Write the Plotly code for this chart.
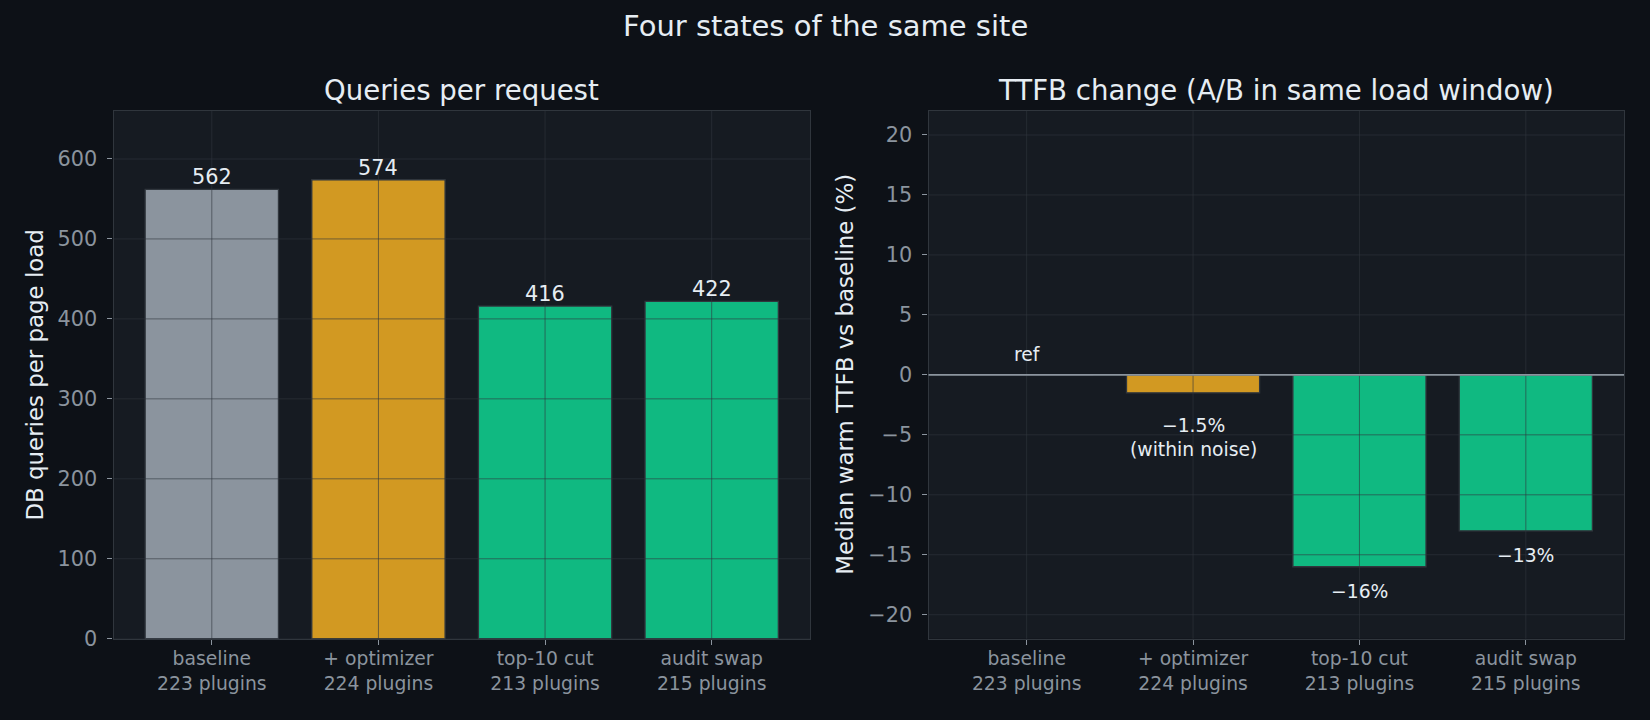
import plotly.graph_objects as go

# ---------------- data ----------------
categories = ["baseline<br>223 plugins", "+ optimizer<br>224 plugins",
              "top-10 cut<br>213 plugins", "audit swap<br>215 plugins"]
queries = [562, 574, 416, 422]
ttfb_change = [0, -1.5, -16, -13]
ttfb_labels = ["ref", "\u22121.5%<br>(within noise)", "\u221216%", "\u221213%"]
bar_colors = ["#8b949e", "#d29922", "#10b981", "#10b981"]
left_yticks = [0, 100, 200, 300, 400, 500, 600]
right_yticks = [-20, -15, -10, -5, 0, 5, 10, 15, 20]

# ---------------- style ----------------
W, H = 1650, 720
K = 1.017  # vertical calibration
FONT = "DejaVu Sans"
BG = "#0d1117"
PLOT_BG = "#161b22"
SPINE = "#30363d"
GRID = "rgba(48,54,61,0.6)"
TXT = "#e6edf3"
TICK = "#8b949e"

xd1 = [113.5 / W, 810 / W]
xd2 = [928.5 / W, 1624 / W]
yd = [1 - 638.7 * K / H, 1 - 111 * K / H]

xidx = list(range(len(categories)))

fig = go.Figure()
fig.add_trace(go.Bar(x=xidx, y=queries, width=0.8, marker_color=bar_colors,
                     marker_line_color=SPINE, marker_line_width=1.3,
                     xaxis="x", yaxis="y", showlegend=False, hoverinfo="skip"))
fig.add_trace(go.Bar(x=xidx, y=ttfb_change, width=0.8, marker_color=bar_colors,
                     marker_line_color=SPINE, marker_line_width=1.3,
                     xaxis="x2", yaxis="y2", showlegend=False, hoverinfo="skip"))

axis_common = dict(showline=True, mirror=True, linecolor=SPINE, linewidth=1.3,
                   showgrid=False, zeroline=False, ticks="outside", ticklen=5,
                   tickwidth=1, tickcolor=TICK)

fig.update_layout(
    width=W, height=H, margin=dict(l=0, r=0, t=0, b=0),
    paper_bgcolor=BG, plot_bgcolor=PLOT_BG,
    font=dict(family=FONT, color=TXT),
    bargap=0.2,
    xaxis=dict(domain=xd1, range=[-0.59, 3.59], tickmode="array", tickvals=xidx,
               ticktext=categories, tickfont=dict(size=18.75, color=TICK),
               ticklabelstandoff=-2, anchor="y", **axis_common),
    yaxis=dict(domain=yd, range=[0, 660], tickmode="array", tickvals=left_yticks,
               tickfont=dict(size=20.8, color=TICK), ticklabelstandoff=6,
               anchor="x", **axis_common),
    xaxis2=dict(domain=xd2, range=[-0.59, 3.59], tickmode="array", tickvals=xidx,
                ticktext=categories, tickfont=dict(size=18.75, color=TICK),
                ticklabelstandoff=-2, anchor="y2", **axis_common),
    yaxis2=dict(domain=yd, range=[-22, 22], tickmode="array", tickvals=right_yticks,
                tickfont=dict(size=20.8, color=TICK), ticklabelstandoff=6,
                anchor="x2", **axis_common),
)

shapes = []
# grid lines drawn above the bars (as in the reference)
for xa, ya, yt in [("x", "y", left_yticks), ("x2", "y2", right_yticks)]:
    for v in yt:
        shapes.append(dict(type="line", xref=f"{xa} domain", yref=ya, x0=0, x1=1,
                           y0=v, y1=v, line=dict(color=GRID, width=1), layer="above"))
    for i in xidx:
        shapes.append(dict(type="line", xref=xa, yref=f"{ya} domain", x0=i, x1=i,
                           y0=0, y1=1, line=dict(color=GRID, width=1), layer="above"))
# zero reference line on the right panel
shapes.append(dict(type="line", xref="x2 domain", yref="y2", x0=0, x1=1, y0=0, y1=0,
                   line=dict(color="#8b949e", width=1.6), layer="above"))
fig.update_layout(shapes=shapes)

ann = []
# main + subplot titles
ann.append(dict(text="Four states of the same site", xref="paper", yref="paper",
                x=0.5, y=1 - 26.3 * K / H, showarrow=False, xanchor="center",
                yanchor="middle", font=dict(size=29, color=TXT)))
ann.append(dict(text="Queries per request", xref="paper", yref="paper",
                x=(xd1[0] + xd1[1]) / 2, y=1 - 90.5 * K / H, showarrow=False,
                xanchor="center", yanchor="middle", font=dict(size=27.6, color=TXT)))
ann.append(dict(text="TTFB change (A/B in same load window)", xref="paper", yref="paper",
                x=(xd2[0] + xd2[1]) / 2, y=1 - 90.5 * K / H, showarrow=False,
                xanchor="center", yanchor="middle", font=dict(size=27.6, color=TXT)))
# axis titles
ann.append(dict(text="DB queries per page load", xref="paper", yref="paper",
                x=34.7 / W, y=(yd[0] + yd[1]) / 2, textangle=-90, showarrow=False,
                xanchor="center", yanchor="middle", font=dict(size=22.9, color=TXT)))
ann.append(dict(text="Median warm TTFB vs baseline (%)", xref="paper", yref="paper",
                x=845 / W, y=(yd[0] + yd[1]) / 2, textangle=-90, showarrow=False,
                xanchor="center", yanchor="middle", font=dict(size=22.9, color=TXT)))
# bar value labels (left)
for i, v in zip(xidx, queries):
    ann.append(dict(text=str(v), x=i, y=v, xref="x", yref="y", showarrow=False,
                    xanchor="center", yanchor="bottom", yshift=-2,
                    font=dict(size=20.8, color=TXT)))
# change labels (right)
for i, v, t in zip(xidx, ttfb_change, ttfb_labels):
    if v == 0:
        shift = 20
    else:
        nlines = t.count("<br>") + 1
        shift = -25 if nlines == 1 else -45
    ann.append(dict(text=t, x=i, y=v, xref="x2", yref="y2", showarrow=False,
                    xanchor="center", yanchor="middle", yshift=shift,
                    font=dict(size=18.75, color=TXT)))
fig.update_layout(annotations=ann)

fig.write_html("out.html")
